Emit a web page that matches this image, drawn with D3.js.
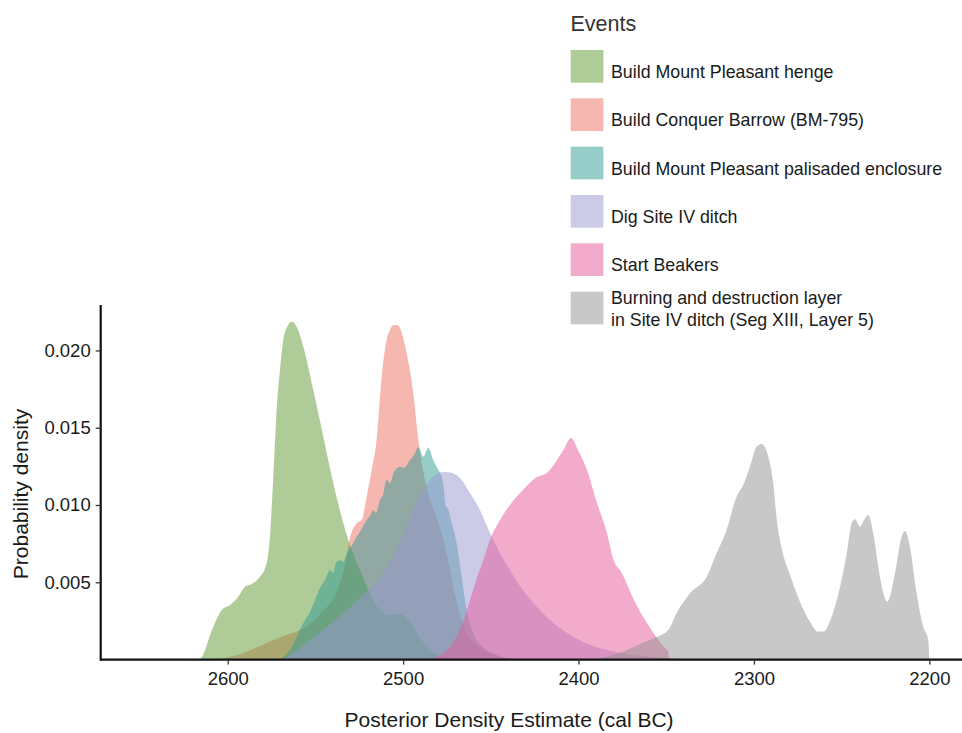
<!DOCTYPE html>
<html><head><meta charset="utf-8">
<script src="https://cdn.jsdelivr.net/npm/d3@7"></script>
<style>body{margin:0;background:#fff}svg{display:block}text{font-family:"Liberation Sans",Arial,sans-serif}</style>
</head><body>
<svg id="chart" width="962" height="733"></svg>
<script>
// ---- data: [year cal BC, probability density] ----
const henge = [[2616.8,0],[2615.8,0.00003],[2608.2,0.00213],[2603.4,0.00321],[2598.7,0.00353],[2594.0,0.00407],[2590.1,0.00472],[2586.3,0.00489],[2581.6,0.00536],[2578.7,0.00591],[2577.4,0.00644],[2575.9,0.00795],[2574.0,0.01183],[2572.1,0.01615],[2570.2,0.01874],[2568.3,0.02068],[2565.5,0.02165],[2563.5,0.02186],[2560.7,0.02154],[2556.9,0.02024],[2551.2,0.01744],[2545.5,0.01442],[2539.8,0.01141],[2534.1,0.00882],[2530.3,0.00741],[2524.6,0.0058],[2518.9,0.00429],[2513.2,0.00321],[2507.5,0.00289],[2501.8,0.00295],[2496.1,0.00243],[2490.4,0.0014],[2482.8,0.00049],[2475.2,0.0001],[2467.6,0]];
const barrow = [[2607.2,0],[2598.7,0.00017],[2589.2,0.00051],[2581.6,0.00088],[2574.0,0.00127],[2566.8,0.00159],[2559.8,0.00185],[2553.1,0.0023],[2546.2,0.00308],[2538.8,0.00418],[2533.1,0.00612],[2530.3,0.00787],[2526.5,0.00882],[2523.6,0.00903],[2520.8,0.01054],[2517.9,0.01227],[2515.1,0.01421],[2512.2,0.0183],[2509.4,0.02068],[2507.5,0.02133],[2505.6,0.02165],[2503.7,0.02165],[2501.8,0.02144],[2498.0,0.01982],[2494.2,0.01723],[2491.3,0.01421],[2488.1,0.01194],[2484.7,0.01033],[2481.3,0.00936],[2477.8,0.00806],[2474.4,0.00644],[2471.0,0.0045],[2467.6,0.00289],[2463.0,0.00159],[2456.2,0.00075],[2447.6,0.0003],[2436.2,0]];
const palisade = [[2570.2,0],[2564.5,0.00062],[2558.8,0.00192],[2555.9,0.00256],[2553.1,0.00308],[2550.2,0.00386],[2547.4,0.00463],[2544.5,0.00515],[2541.7,0.0058],[2540.0,0.0056],[2538.3,0.00625],[2536.0,0.00644],[2534.3,0.00632],[2531.4,0.00703],[2529.1,0.00741],[2526.5,0.00795],[2524.0,0.00839],[2520.8,0.00903],[2518.9,0.00929],[2517.2,0.00968],[2515.5,0.00948],[2513.2,0.01033],[2511.5,0.01065],[2509.4,0.01162],[2507.5,0.01143],[2505.2,0.01214],[2501.8,0.01248],[2499.5,0.0124],[2496.1,0.01291],[2493.8,0.01324],[2491.3,0.01376],[2488.5,0.01313],[2485.6,0.01369],[2482.8,0.01291],[2479.9,0.01227],[2478.0,0.01188],[2476.7,0.01097],[2475.8,0.00994],[2474.4,0.00974],[2472.3,0.00884],[2469.5,0.00754],[2466.6,0.00534],[2463.8,0.00321],[2460.0,0.00172],[2454.5,0.00082],[2446.5,0.0003],[2436.2,0.00004],[2427.7,0]];
const ditch = [[2568.5,0],[2558.8,0.00075],[2547.4,0.00179],[2536.0,0.00282],[2524.6,0.00399],[2513.2,0.00528],[2504.6,0.00696],[2498.9,0.00839],[2494.4,0.00968],[2489.2,0.01084],[2484.7,0.01162],[2480.7,0.01201],[2477.3,0.01214],[2473.3,0.01211],[2467.6,0.01175],[2461.9,0.01078],[2456.2,0.00968],[2450.5,0.00819],[2444.8,0.0069],[2439.1,0.0058],[2431.7,0.0045],[2423.7,0.0034],[2416.3,0.00256],[2406.6,0.00172],[2397.5,0.00114],[2383.8,0.00062],[2369.0,0.0003],[2349.6,0.0001],[2336.5,0]];
const beakers = [[2487.5,0],[2481.8,0.00014],[2476.1,0.00049],[2470.4,0.00127],[2465.9,0.00243],[2461.9,0.00386],[2457.9,0.00528],[2453.9,0.00657],[2450.5,0.00774],[2444.8,0.00903],[2439.1,0.01],[2431.7,0.01097],[2423.7,0.01181],[2418.0,0.01207],[2412.3,0.01291],[2408.3,0.01363],[2404.3,0.01434],[2399.8,0.01343],[2395.2,0.01227],[2389.5,0.01013],[2383.8,0.00819],[2380.4,0.00657],[2375.3,0.0056],[2369.0,0.00399],[2361.0,0.00237],[2355.3,0.0014],[2351.3,0.00082],[2349.0,0.00056],[2348.4,0]];
const burning = [[2393.5,0],[2382.1,0.00023],[2373.5,0.00056],[2365.0,0.00101],[2355.5,0.00146],[2348.8,0.00192],[2344.0,0.00302],[2336.5,0.00429],[2326.9,0.00536],[2321.3,0.00688],[2315.6,0.00839],[2309.9,0.01054],[2306.1,0.0113],[2302.3,0.01248],[2298.5,0.01377],[2295.6,0.01395],[2291.8,0.01313],[2289.0,0.01141],[2286.9,0.00899],[2284.0,0.0071],[2279.5,0.00549],[2273.8,0.00375],[2268.1,0.00245],[2263.6,0.00181],[2260.5,0.00181],[2255.7,0.00278],[2250.9,0.00472],[2247.1,0.00688],[2244.3,0.00882],[2242.4,0.00908],[2239.5,0.0086],[2237.3,0.00903],[2234.8,0.00936],[2232.0,0.00817],[2228.2,0.00536],[2224.0,0.00375],[2219.6,0.00558],[2215.8,0.00795],[2213.9,0.00832],[2211.1,0.0073],[2207.3,0.00429],[2203.5,0.00213],[2200.6,0.00127],[2200.0,0.0001],[2199.9,0]];

const events = ["Build Mount Pleasant henge","Build Conquer Barrow (BM-795)","Build Mount Pleasant palisaded enclosure","Dig Site IV ditch","Start Beakers","Burning and destruction layer\nin Site IV ditch (Seg XIII, Layer 5)"];
const colors = ["#5f972f","#eb6f61","#2d9b93","#9797d1","#e75799","#919191"];
const seriesData = [henge, barrow, palisade, ditch, beakers, burning];
const drawOrder = [1,0,2,3,4,5];
const xTicks = [2600,2500,2400,2300,2200];
const yTicks = [0.005,0.010,0.015,0.020];

// ---- layout ----
const svg = d3.select("#chart");
const x = d3.scaleLinear().domain([2672.8, 2181.4]).range([100, 962]);
const y = d3.scaleLinear().domain([0, 0.02294]).range([659.6, 305]);

const area = d3.area().x(d => x(d[0])).y0(y(0)).y1(d => y(d[1])).curve(d3.curveMonotoneX);

drawOrder.forEach(i => {
  svg.append("path").datum(seriesData[i]).attr("d", area)
    .attr("fill", colors[i]).attr("fill-opacity", 0.5);
});

// axes
const xAxis = svg.append("g").attr("transform", `translate(0,${y(0)})`)
  .call(d3.axisBottom(x).tickValues(xTicks).tickFormat(d3.format("d")).tickSizeOuter(0).tickSize(5).tickPadding(7));
const yAxis = svg.append("g").attr("transform", `translate(100.7,0)`)
  .call(d3.axisLeft(y).tickValues(yTicks).tickFormat(d3.format(".3f")).tickSizeOuter(0).tickSize(5).tickPadding(5));
[xAxis, yAxis].forEach(g => {
  g.select(".domain").attr("stroke", "#111").attr("stroke-width", 2.2);
  g.selectAll(".tick line").attr("stroke", "#333").attr("stroke-width", 1.3);
  g.selectAll(".tick text").attr("fill", "#1a1a1a").style("font-size", "18.5px")
    .style("font-family", '"Liberation Sans",Arial,sans-serif');
});
yAxis.select(".domain").attr("d", `M0,${y(0)+1}V305`);
xAxis.select(".domain").attr("d", `M100,0H962`);

svg.append("text").attr("x", 509).attr("y", 727).attr("text-anchor", "middle")
  .style("font-size", "21px").attr("fill", "#1a1a1a").text("Posterior Density Estimate (cal BC)");
svg.append("text").attr("transform", "translate(28,494) rotate(-90)").attr("text-anchor", "middle")
  .style("font-size", "21px").attr("fill", "#1a1a1a").text("Probability density");

// legend
const leg = svg.append("g");
leg.append("text").attr("x", 570.5).attr("y", 30.5).style("font-size", "21.5px").attr("fill", "#333").text("Events");
events.forEach((name, i) => {
  const top = 50 + i * 48.33;
  leg.append("rect").attr("x", 570.7).attr("y", top).attr("width", 32.7).attr("height", 32.7)
    .attr("fill", colors[i]).attr("fill-opacity", 0.5);
  const lines = name.split("\n");
  const t = leg.append("text").attr("x", 611).style("font-size", "17.8px").attr("fill", "#1a1a1a");
  if (lines.length === 1) {
    t.attr("y", top + 28).text(name);
  } else {
    lines.forEach((ln, j) => t.append("tspan").attr("x", 611).attr("y", top + 12.3 + j * 22).text(ln));
  }
});
</script>
</body></html>
